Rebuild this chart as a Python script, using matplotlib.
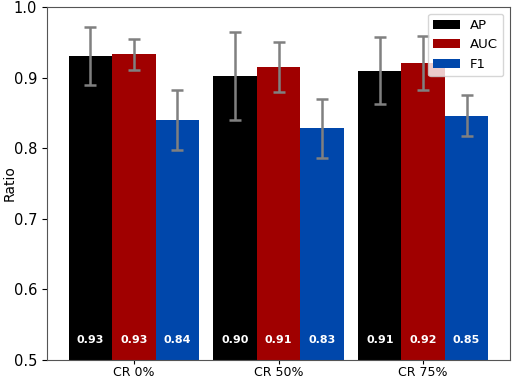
import matplotlib
matplotlib.use("Agg")
import matplotlib.pyplot as plt
import numpy as np

categories = ["CR 0%", "CR 50%", "CR 75%"]
series_names = ["AP", "AUC", "F1"]
ap = [0.930, 0.902, 0.910]
auc = [0.933, 0.915, 0.921]
f1 = [0.840, 0.828, 0.846]
ap_err = [0.041, 0.062, 0.048]
auc_err = [0.022, 0.035, 0.038]
f1_err = [0.043, 0.042, 0.029]
labels_ap = ["0.93", "0.90", "0.91"]
labels_auc = ["0.93", "0.91", "0.92"]
labels_f1 = ["0.84", "0.83", "0.85"]

colors = ["#000000", "#a00000", "#0047ab"]

fig = plt.figure(figsize=(5.12, 3.78), dpi=100)
ax = fig.add_axes([47/512, 1-360/378, 463/512, 353/378])

x = np.arange(len(categories))
w = 0.3
vals = [ap, auc, f1]
errs = [ap_err, auc_err, f1_err]
labs = [labels_ap, labels_auc, labels_f1]
for i, (v, e, lb, name, c) in enumerate(zip(vals, errs, labs, series_names, colors)):
    xs = x + (i - 1) * w
    ax.bar(xs, v, w, yerr=e, color=c, label=name,
           error_kw=dict(ecolor="#808080", elinewidth=1.8, capsize=4, capthick=1.8))
    for xi, t in zip(xs, lb):
        ax.text(xi, 0.528, t, color="white", ha="center", va="center",
                fontsize=8, fontweight="bold")

ax.set_ylim(0.5, 1.0)
ax.set_xlim(-0.6, 2.6)
ax.set_xticks(x)
ax.set_xticklabels(categories, fontsize=9)
ax.tick_params(axis="x", pad=1.5, length=3)
ax.set_yticks([0.5, 0.6, 0.7, 0.8, 0.9, 1.0])
ax.tick_params(axis="y", labelsize=10.5)
ax.set_ylabel("Ratio", fontsize=10)
ax.yaxis.set_label_coords(-0.066, 0.5)
for s in ax.spines.values():
    s.set_color("#555555")
ax.legend(loc="upper right", fontsize=9.5)

fig.savefig("out.png", dpi=100)
